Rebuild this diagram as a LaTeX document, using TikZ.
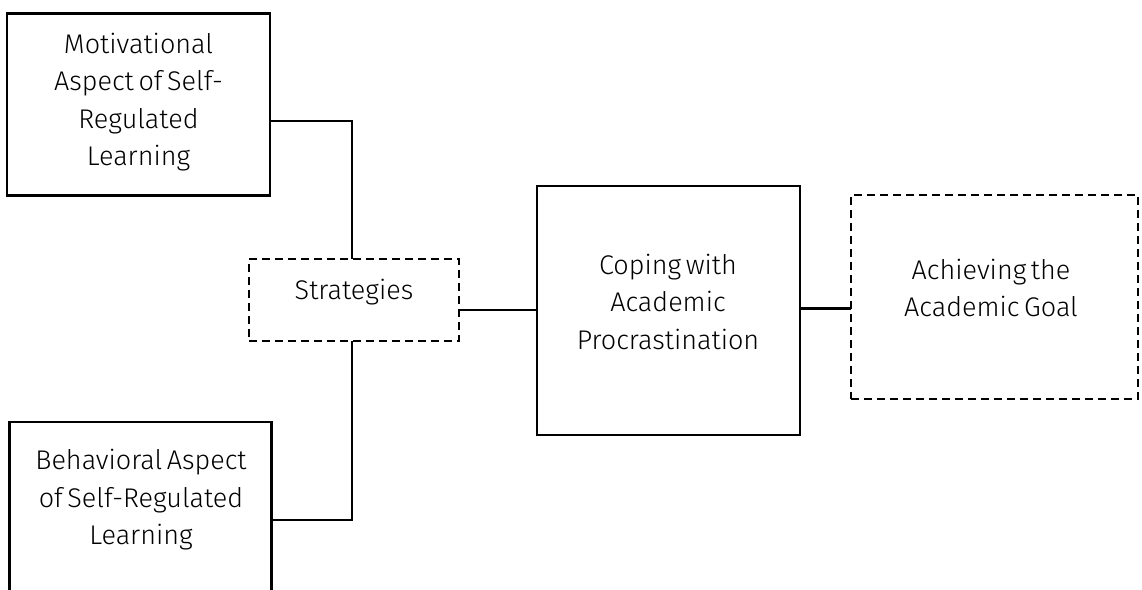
\documentclass[tikz,border=0pt]{standalone}
\usepackage{fontspec}
\setmainfont{Fira Sans}[UprightFont={* Light}]
% box text: 27pt on 37.5pt lines, with slightly narrower word spaces
\newcommand\boxtextfont{\fontsize{27}{37.5}\selectfont\spaceskip=0.17em plus 0.05em minus 0.02em\relax}
\begin{document}
\begin{tikzpicture}[x=1pt,y=-1pt,
  box/.style={draw=black,line width=2.8pt,inner sep=0pt,outer sep=0pt},
  solidbox/.style={box},
  dashbox/.style={box,dash pattern=on 8pt off 5pt},
  label/.style={inner sep=0pt,align=center,font=\boxtextfont},
  link/.style={line width=2.8pt}]
\useasboundingbox (0,0) rectangle (1142,589);
\clip (0,0) rectangle (1142,589);

% boxes
\node[solidbox,minimum width=263pt,minimum height=182pt] (mot) at (138.5,104.5) {};
\node[dashbox,minimum width=210pt,minimum height=82pt] (strat) at (354,300) {};
\node[solidbox,minimum width=262pt,minimum height=260pt] (beh) at (140.5,552) {};
\node[solidbox,minimum width=263pt,minimum height=249pt] (cope) at (668.5,310.5) {};
\node[dashbox,minimum width=287pt,minimum height=204pt] (goal) at (994.5,297) {};

% texts
\node[label] (motT) at (138.5,102) {Motivational\\Aspect of Self-\\Regulated\\Learning};
\node[label] (stratT) at (354,292) {Strategies};
\node[label] (behT) at (141,500) {Behavioral Aspect\\of Self-Regulated\\Learning};
\node[label] (copeT) at (668,301.5) {Coping with\\Academic\\Procrastination};
\node[label] (goalT) at (991,288) {Achieving the\\Academic Goal};

% connectors
\coordinate (j1) at (352,121);
\coordinate (j2) at (352,520);
\coordinate (j3) at (0,310);
\coordinate (j4) at (0,308.5);
\draw[link] (mot.east |- j1) -- (j1) -- (j1 |- strat.north);
\draw[link] (j2 |- strat.south) -- (j2) -- (beh.east |- j2);
\draw[link] (strat.east |- j3) -- (cope.west |- j3);
\draw[link] (cope.east |- j4) -- (goal.west |- j4);
\end{tikzpicture}
\end{document}
